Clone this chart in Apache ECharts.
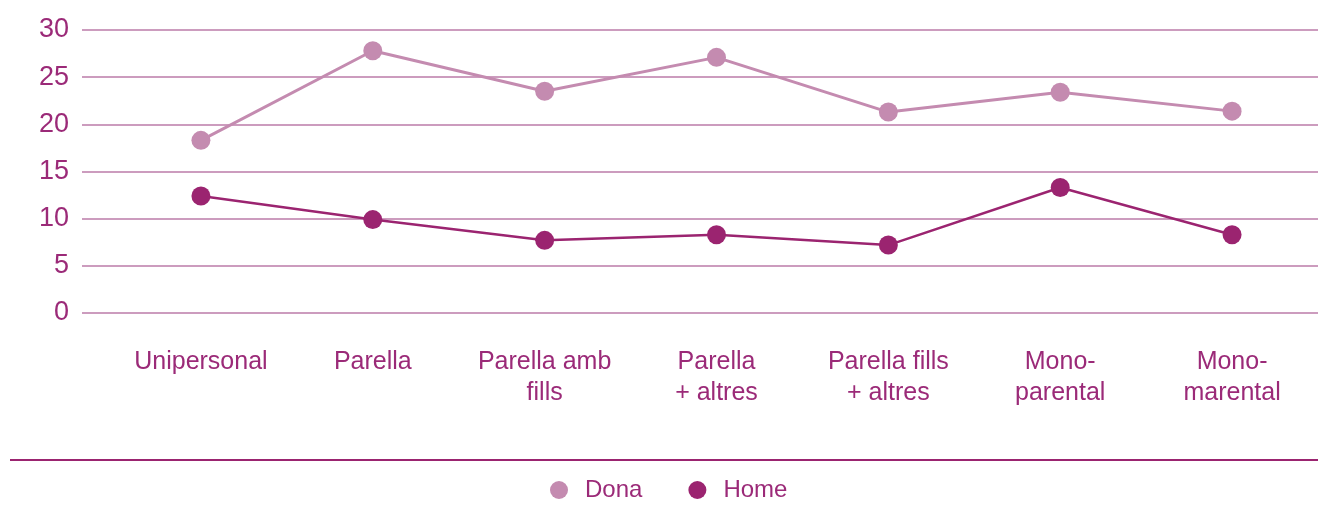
<!DOCTYPE html>
<html>
<head>
<meta charset="utf-8">
<script src="https://cdn.jsdelivr.net/npm/echarts@6/dist/echarts.min.js"></script>
<style>
html, body { margin: 0; padding: 0; background: #fff; }
#chart { width: 1318px; height: 505px; }
</style>
</head>
<body>
<div id="chart"></div>
<script>
// dades
const categories = ['Unipersonal', 'Parella', 'Parella amb\nfills', 'Parella\n+ altres', 'Parella fills\n+ altres', 'Mono-\nparental', 'Mono-\nmarental']
const dona = [18.3, 27.8, 23.5, 27.1, 21.3, 23.4, 21.4]
const home = [12.4, 9.9, 7.7, 8.3, 7.2, 13.3, 8.3]
const yTicks = [0, 5, 10, 15, 20, 25, 30]

const txt = '#9b2a78'
const gridColor = '#cc9cbe'
const font = '"Liberation Sans Narrow", "Liberation Sans", sans-serif'

const chart = echarts.init(document.getElementById('chart'))
const option = {
    animation: false,
    grid: [
        {left: 82, right: 0, top: 30, bottom: 192},  // linies + etiquetes y
        {left: 115, right: -2, top: 30, bottom: 192} // series
    ],
    legend: {
        top: 473,
        left: 545,
        itemGap: 46,
        itemWidth: 18,
        itemHeight: 18,
        icon: 'circle',
        textStyle: {color: txt, fontSize: 24, fontFamily: font, padding: [0, 0, 0, 12]},
        data: ['Dona', 'Home']
    },
    xAxis: [
        {gridIndex: 0, type: 'value', show: false, min: 0, max: 1},
        {
            gridIndex: 1, type: 'category', data: categories, boundaryGap: true,
            axisLine: {show: false}, axisTick: {show: false},
            axisLabel: {color: txt, fontSize: 25, fontFamily: font, margin: 34, lineHeight: 31, interval: 0}
        }
    ],
    yAxis: [
        {
            gridIndex: 0, type: 'value', min: 0, max: 30, interval: 5,
            axisLine: {show: false}, axisTick: {show: false},
            axisLabel: {color: txt, fontSize: 27, fontFamily: font, margin: 13, padding: [3, 0, 0, 0],
                formatter: v => yTicks.includes(v) ? String(v) : ''},
            splitLine: {lineStyle: {color: gridColor, width: 2}}
        },
        {gridIndex: 1, type: 'value', min: 0, max: 30, interval: 5, show: false, splitLine: {show: false}}
    ],
    graphic: [{
        type: 'line',
        shape: {x1: 10, y1: 460, x2: 1318, y2: 460},
        style: {stroke: '#9b2470', lineWidth: 2}
    }],
    series: [
        {
            name: 'Dona', type: 'line', xAxisIndex: 1, yAxisIndex: 1, data: dona,
            symbol: 'circle', symbolSize: 19,
            itemStyle: {color: '#c48bb0'},
            lineStyle: {color: '#c48bb0', width: 3}
        },
        {
            name: 'Home', type: 'line', xAxisIndex: 1, yAxisIndex: 1, data: home,
            symbol: 'circle', symbolSize: 19,
            itemStyle: {color: '#9b2470'},
            lineStyle: {color: '#9b2470', width: 2.5}
        }
    ]
}
chart.setOption(option)
</script>
</body>
</html>
